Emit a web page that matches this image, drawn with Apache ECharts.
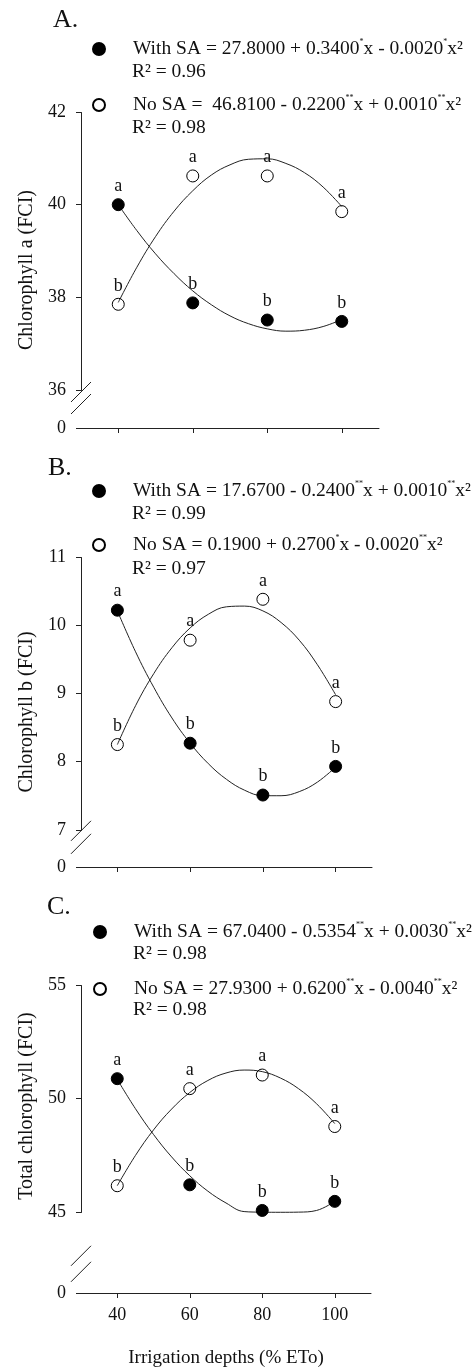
<!DOCTYPE html>
<html>
<head>
<meta charset="utf-8">
<script src="https://cdn.jsdelivr.net/npm/echarts@6.0.0/dist/echarts.min.js"></script>
<style>
  html, body { margin: 0; padding: 0; background: #fff; }
  #chart { width: 476px; height: 1367px; }
</style>
</head>
<body>
<div id="chart"></div>
<script>
// irrigation depths (% ETo)
const depths = [40, 60, 80, 100];
const xTicks = [40, 60, 80, 100];
const curveX = [40, 45, 50, 55, 60, 65, 70, 75, 80, 85, 90, 95, 100];

// A. chlorophyll a
const chlAWith = [40.00, 37.88, 37.51, 37.48];
const chlANo = [37.85, 40.62, 40.62, 39.85];
const chlAWithFit = [40.00, 39.44, 38.94, 38.51, 38.14, 37.84, 37.60, 37.43, 37.32, 37.27, 37.29, 37.37, 37.52];
const chlANoFit = [37.89, 38.65, 39.31, 39.86, 40.30, 40.64, 40.86, 40.98, 40.99, 40.89, 40.69, 40.38, 39.96];
const chlAWithLetters = ['a', 'b', 'b', 'b'];
const chlANoLetters = ['b', 'a', 'a', 'a'];
const chlATicks = [0, 36, 38, 40, 42];

// B. chlorophyll b
const chlBWith = [10.22, 8.27, 7.51, 7.93];
const chlBNo = [8.25, 9.78, 10.38, 8.88];
const chlBWithFit = [10.21, 9.61, 9.09, 8.64, 8.27, 7.97, 7.74, 7.58, 7.50, 7.50, 7.56, 7.70, 7.92];
const chlBNoFit = [8.25, 8.82, 9.29, 9.67, 9.96, 10.16, 10.27, 10.28, 10.21, 10.04, 9.78, 9.42, 8.98];
const chlBWithLetters = ['a', 'b', 'b', 'b'];
const chlBNoLetters = ['b', 'a', 'a', 'a'];
const chlBTicks = [0, 7, 8, 9, 10, 11];

// C. total chlorophyll
const totWith = [50.87, 46.19, 45.06, 45.46];
const totNo = [46.15, 50.43, 51.03, 48.76];
const totWithFit = [50.84, 49.55, 48.41, 47.42, 46.59, 45.91, 45.39, 45.01, 44.80, 44.73, 44.82, 45.06, 45.46];
const totNoFit = [46.15, 47.48, 48.61, 49.53, 50.26, 50.79, 51.12, 51.25, 51.18, 50.90, 50.43, 49.76, 48.89];
const totWithLetters = ['a', 'b', 'b', 'b'];
const totNoLetters = ['b', 'a', 'a', 'a'];
const totTicks = [0, 45, 50, 55];

// regression equations shown in the legends ({s|} = superscript star)
const eqAWith = 'With SA = 27.8000 + 0.3400{s|*}x - 0.0020{s|*}x²';
const eqANo = 'No SA =  46.8100 - 0.2200{s|**}x + 0.0010{s|**}x²';
const eqBWith = 'With SA = 17.6700 - 0.2400{s|**}x + 0.0010{s|**}x²';
const eqBNo = 'No SA = 0.1900 + 0.2700{s|*}x - 0.0020{s|**}x²';
const eqCWith = 'With SA = 67.0400 - 0.5354{s|**}x + 0.0030{s|**}x²';
const eqCNo = 'No SA = 27.9300 + 0.6200{s|**}x - 0.0040{s|**}x²';
const r2A = ['R² = 0.96', 'R² = 0.98'];
const r2B = ['R² = 0.99', 'R² = 0.97'];
const r2C = ['R² = 0.98', 'R² = 0.98'];

const FONT = 'Liberation Serif';
const INK = '#111';
const AXIS = '#222';

const panels = [
  {
    tag: 'A.', yName: 'Chlorophyll a (FCI)', ticks: chlATicks, yMax: 42, breakEnd: 36, gap: 0.82,
    withY: chlAWith, noY: chlANo, withFit: chlAWithFit, noFit: chlANoFit,
    withLetters: chlAWithLetters, noLetters: chlANoLetters,
    eqWith: eqAWith, eqNo: eqANo, r2: r2A,
    grid: { left: 81, right: 97, top: 112, height: 316 },
    tagPos: [53, 7], legendLeft: 92, legendTop: 38, legendGap: 34, r2X: 132, r2Y: [72, 128],
    slash: [2, 14], namePad: [0, 0, 0, 0]
  },
  {
    tag: 'B.', yName: 'Chlorophyll b (FCI)', ticks: chlBTicks, yMax: 11, breakEnd: 7, gap: 0.545,
    withY: chlBWith, noY: chlBNo, withFit: chlBWithFit, noFit: chlBNoFit,
    withLetters: chlBWithLetters, noLetters: chlBNoLetters,
    eqWith: eqBWith, eqNo: eqBNo, r2: r2B,
    grid: { left: 81, right: 104, top: 557, height: 310 },
    tagPos: [48, 455], legendLeft: 92, legendTop: 480, legendGap: 32, r2X: 132, r2Y: [514, 569],
    slash: [1, 14], namePad: [0, 0, 0, 0]
  },
  {
    tag: 'C.', yName: 'Total chlorophyll (FCI)', ticks: totTicks, yMax: 55, breakEnd: 45, gap: 3.58,
    withY: totWith, noY: totNo, withFit: totWithFit, noFit: totNoFit,
    withLetters: totWithLetters, noLetters: totNoLetters,
    eqWith: eqCWith, eqNo: eqCNo, r2: r2C,
    grid: { left: 81, right: 105, top: 985, height: 308 },
    tagPos: [47, 894], legendLeft: 93, legendTop: 921, legendGap: 35, r2X: 133, r2Y: [954, 1010],
    slash: [44, 60], namePad: [0, 0, 0, 66]
  }
];

const chart = echarts.init(document.getElementById('chart'), null, { renderer: 'canvas' });

const series = [];
panels.forEach((p, k) => {
  const fitStyle = { color: AXIS, width: 1 };
  series.push({
    name: 'fit with ' + k, type: 'line', xAxisIndex: k, yAxisIndex: k,
    data: curveX.map((x, i) => [x, p.withFit[i]]),
    smooth: 0.4, showSymbol: false, symbol: 'none', lineStyle: fitStyle, z: 2, silent: true
  });
  series.push({
    name: 'fit no ' + k, type: 'line', xAxisIndex: k, yAxisIndex: k,
    data: curveX.map((x, i) => [x, p.noFit[i]]),
    smooth: 0.4, showSymbol: false, symbol: 'none', lineStyle: fitStyle, z: 2, silent: true
  });
  const lbl = letters => ({
    show: true, position: 'top', distance: 3,
    formatter: q => letters[q.dataIndex],
    fontFamily: FONT, fontSize: 18, color: INK
  });
  series.push({
    name: 'With SA', type: 'scatter', xAxisIndex: k, yAxisIndex: k,
    data: depths.map((x, i) => [x, p.withY[i]]),
    symbol: 'circle', symbolSize: 12,
    itemStyle: { color: '#000', borderColor: '#000', borderWidth: 1, opacity: 1 },
    label: lbl(p.withLetters), z: 3
  });
  series.push({
    name: 'No SA', type: 'scatter', xAxisIndex: k, yAxisIndex: k,
    data: depths.map((x, i) => [x, p.noY[i]]),
    symbol: 'circle', symbolSize: 12,
    itemStyle: { color: 'rgba(255,255,255,0)', borderColor: '#000', borderWidth: 1, opacity: 1 },
    label: lbl(p.noLetters), z: 3
  });
});

const option = {
  animation: false,
  backgroundColor: '#fff',
  title: panels.map(p => ({
    text: p.tag, left: p.tagPos[0], top: p.tagPos[1], padding: 0,
    textStyle: { fontFamily: FONT, fontSize: 26, fontWeight: 'normal', color: INK }
  })),
  legend: panels.map(p => ({
    orient: 'vertical', left: p.legendLeft, top: p.legendTop, padding: 0,
    itemGap: p.legendGap, itemWidth: 58, itemHeight: 12, icon: 'circle',
    selectedMode: false,
    data: ['With SA', 'No SA'],
    formatter: name => (name === 'With SA' ? p.eqWith : p.eqNo),
    textStyle: {
      fontFamily: FONT, fontSize: 19.5, color: INK, lineHeight: 22,
      rich: { s: { fontFamily: FONT, fontSize: 8, lineHeight: 9, color: INK, verticalAlign: 'top' } }
    }
  })),
  grid: panels.map(p => Object.assign({ outerBoundsMode: 'none', containLabel: false }, p.grid)),
  xAxis: panels.map((p, k) => ({
    type: 'value', gridIndex: k, min: 30, max: 110,
    axisLine: { show: true, onZero: false, lineStyle: { color: AXIS, width: 1 } },
    axisTick: { show: true, inside: false, length: 5, customValues: xTicks, lineStyle: { color: AXIS } },
    axisLabel: {
      show: k === 2, customValues: xTicks, margin: 13,
      fontFamily: FONT, fontSize: 18, color: INK
    },
    splitLine: { show: false },
    name: k === 2 ? 'Irrigation depths (% ETo)' : '',
    nameLocation: 'middle', nameGap: 56,
    nameTextStyle: { fontFamily: FONT, fontSize: 19, color: INK }
  })),
  yAxis: panels.map((p, k) => ({
    type: 'value', gridIndex: k, min: 0, max: p.yMax,
    breaks: [{ start: 0, end: p.breakEnd, gap: p.gap }],
    breakArea: { show: false },
    axisLine: { show: true, onZero: false, lineStyle: { color: AXIS, width: 1 } },
    axisTick: { show: true, inside: false, length: 5, customValues: p.ticks, lineStyle: { color: AXIS } },
    axisLabel: { customValues: p.ticks, margin: 15, fontFamily: FONT, fontSize: 18, color: INK },
    splitLine: { show: false },
    name: p.yName, nameLocation: 'middle', nameGap: 44,
    nameTextStyle: { fontFamily: FONT, fontSize: 20, color: INK, padding: p.namePad }
  })),
  series: series
};

chart.setOption(option);

// R² lines under each legend entry and the // break marks on the y axes
const extras = [];
panels.forEach((p, k) => {
  p.r2.forEach((t, j) => {
    extras.push({
      type: 'text', silent: true,
      style: { x: p.r2X, y: p.r2Y[j], text: t, font: '19.5px "' + FONT + '"', fill: INK, verticalAlign: 'middle' }
    });
  });
  const ax = chart.convertToPixel({ xAxisIndex: k }, 30);
  const yTop = chart.convertToPixel({ yAxisIndex: k }, p.breakEnd);
  p.slash.forEach(off => {
    const y = yTop + off;
    extras.push({
      type: 'line', silent: true, z: 10,
      shape: { x1: ax - 10, y1: y + 10, x2: ax + 10, y2: y - 10 },
      style: { stroke: AXIS, lineWidth: 1 }
    });
  });
});
chart.setOption({ graphic: extras });
</script>
</body>
</html>
